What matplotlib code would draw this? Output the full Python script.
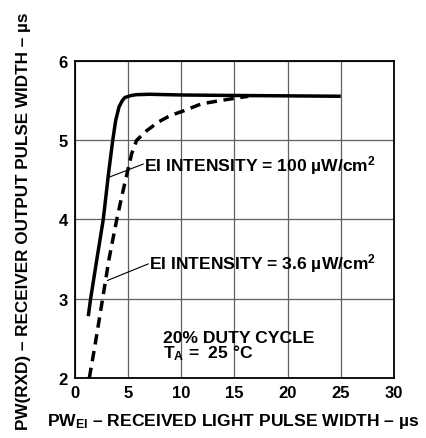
import matplotlib
matplotlib.use("Agg")
import matplotlib.pyplot as plt

plt.rcParams['font.family'] = ['Liberation Sans', 'DejaVu Sans']
plt.rcParams['font.weight'] = 'bold'
plt.rcParams['mathtext.fontset'] = 'custom'
plt.rcParams['mathtext.rm'] = 'Liberation Sans:bold'
plt.rcParams['mathtext.it'] = 'Liberation Sans:bold'
plt.rcParams['mathtext.bf'] = 'Liberation Sans:bold'

# Data
solid_x = [1.25, 1.47, 2.0, 2.66, 3.15, 3.55, 3.83, 4.14, 4.45, 4.7, 5.3, 5.8, 7.0, 10.0, 15.0, 20.0, 25.0]
solid_y = [2.78, 3.0, 3.45, 4.0, 4.575, 5.0, 5.25, 5.42, 5.5, 5.54, 5.565, 5.575, 5.58, 5.571, 5.565, 5.56, 5.555]

dashed_x = [1.35, 1.88, 2.6, 3.2, 3.93, 4.5, 5.0, 5.33, 5.8, 6.74, 7.84, 8.94, 10.2, 11.9, 14.1, 16.3]
dashed_y = [2.0, 2.41, 3.0, 3.5, 4.0, 4.35, 4.64, 4.83, 5.0, 5.12, 5.23, 5.31, 5.37, 5.46, 5.51, 5.555]

x_ticks = [0, 5, 10, 15, 20, 25, 30]
y_ticks = [2, 3, 4, 5, 6]

fig = plt.figure(figsize=(4.27, 4.39), dpi=100)
ax = fig.add_axes([0.1756, 0.1367, 0.747, 0.7221])

ax.plot(solid_x, solid_y, color='black', lw=2.5, solid_capstyle='butt', solid_joinstyle='round')
ax.plot(dashed_x, dashed_y, color='black', lw=2.5, dashes=(3.0, 1.9), dash_capstyle='butt')

ax.set_xlim(0, 30)
ax.set_ylim(2, 6)
ax.set_xticks(x_ticks)
ax.set_yticks(y_ticks)
ax.tick_params(length=0, labelsize=12, pad=5)
for lab in ax.get_xticklabels() + ax.get_yticklabels():
    lab.set_fontweight('bold')
ax.grid(True, color='#606060', lw=0.9)
for s in ax.spines.values():
    s.set_linewidth(1.3)
    s.set_color('black')

ax.set_xlabel(r'PW$_{EI}$ – RECEIVED LIGHT PULSE WIDTH – µs', fontsize=12.6, fontweight='bold')
ax.set_ylabel('PW(RXD) – RECEIVER OUTPUT PULSE WIDTH – µs', fontsize=12.3, fontweight='bold')
ax.xaxis.set_label_coords(0.497, -0.105)
ax.yaxis.set_label_coords(-0.137, 0.498)

fs = 12.6
# annotations
ax.annotate('', xy=(3.13, 4.53), xytext=(6.43, 4.70),
            arrowprops=dict(arrowstyle='-', lw=0.8, color='black', shrinkA=0, shrinkB=0))
ax.text(6.45, 4.617, r'EI INTENSITY = 100 µW/cm$^{2}$', fontsize=fs, fontweight='bold', ha='left', va='baseline')
ax.annotate('', xy=(3.04, 3.23), xytext=(6.90, 3.44),
            arrowprops=dict(arrowstyle='-', lw=0.8, color='black', shrinkA=0, shrinkB=0))
ax.text(6.95, 3.377, r'EI INTENSITY = 3.6 µW/cm$^{2}$', fontsize=fs, fontweight='bold', ha='left', va='baseline')

ax.text(8.25, 2.61, '20% DUTY CYCLE\n' + r'T$_{A}$ =  25 °C', fontsize=fs, fontweight='bold',
        ha='left', va='top', linespacing=0.85)

fig.savefig('out.png', dpi=100)
